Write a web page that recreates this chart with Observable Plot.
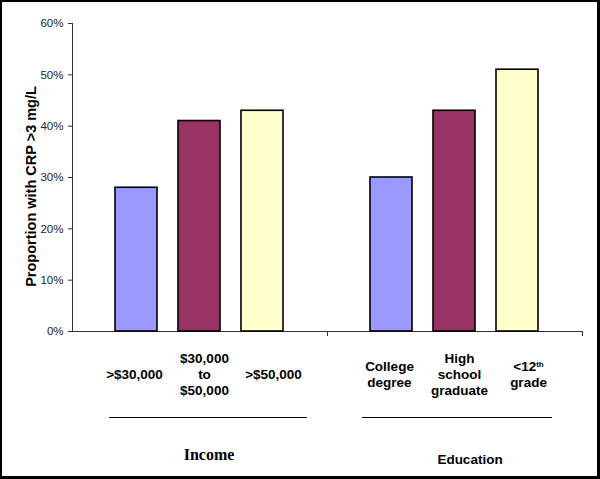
<!DOCTYPE html>
<html>
<head>
<meta charset="utf-8">
<script src="https://cdn.jsdelivr.net/npm/d3@7"></script>
<script src="https://cdn.jsdelivr.net/npm/@observablehq/plot@0.6"></script>
<style>
  html, body { margin: 0; padding: 0; background: #fff; }
  #wrap { position: relative; width: 600px; height: 479px; overflow: hidden; }
  #border { position: absolute; left: 0; top: 0; width: 600px; height: 479px; box-sizing: border-box;
            border-left: 2px solid #000; border-top: 2px solid #000; border-right: 3px solid #000; border-bottom: 3px solid #000;
            pointer-events: none; }
</style>
</head>
<body>
<div id="wrap"><div id="border"></div></div>
<script>
// ---- data ----
const groups = ["Income", "Education"];
const incomeCategories = [">$30,000", "$30,000\nto\n$50,000", ">$50,000"];
const incomeValues = [0.28, 0.41, 0.43];
const educationCategories = ["College\ndegree", "High\nschool\ngraduate", "<12th\ngrade"];
const educationValues = [0.30, 0.43, 0.51];
const barColors = ["#9999FF", "#993366", "#FFFFCC"];
const yTicks = [0, 0.1, 0.2, 0.3, 0.4, 0.5, 0.6];
const yLabel = "Proportion with CRP >3 mg/L";

// ---- table ----
const rows = [];
incomeCategories.forEach((c, i) => rows.push({group: groups[0], rank: i, category: c, value: incomeValues[i]}));
educationCategories.forEach((c, i) => rows.push({group: groups[1], rank: i, category: c, value: educationValues[i]}));

const W = 600, H = 479, mL = 71, mR = 18, mT = 23, mB = 148;
const plotH = H - mT - mB;
const labelDx = [-2, 5, 11];
const groupStyle = {
  Income:    {font: "'Liberation Serif', 'Times New Roman', serif", size: 16, dx: 9, dy: 123, insetLeft: 37, insetRight: 20},
  Education: {font: "'Liberation Sans', Arial, sans-serif", size: 13.5, dx: 15, dy: 128, insetLeft: 35, insetRight: 30}
};

const marks = [
  Plot.ruleY([0], {stroke: "#333", strokeWidth: 1}),
  Plot.frame({anchor: "right", insetTop: plotH, insetBottom: -4, stroke: "#333", strokeWidth: 1}),
  Plot.frame({anchor: "left", fx: () => groups[0], stroke: "#333", strokeWidth: 1}),
  Plot.axisY({ticks: yTicks, tickFormat: d3.format(".0%"), tickSize: 4, tickPadding: 5, fontSize: 11.5, fill: "#222", stroke: "#333", label: null}),
  Plot.barY(rows, {fx: "group", x: "rank", y: "value", fill: "rank", stroke: "#000", strokeWidth: 1.6}),
  ...labelDx.map((dx, r) => Plot.text(rows.filter(d => d.rank === r), {
    fx: "group", x: "rank", text: "category", frameAnchor: "bottom", dy: 42, dx,
    lineAnchor: "middle", lineHeight: 1.185, fontSize: 13.5, fontWeight: "bold", fill: "#000"
  })),
  ...groups.flatMap(g => {
    const s = groupStyle[g];
    return [
      Plot.ruleY([g], {fx: d => d, y: () => 0, dy: 86, insetLeft: s.insetLeft, insetRight: s.insetRight, stroke: "#000", strokeWidth: 1}),
      Plot.text([g], {fx: d => d, text: d => d, frameAnchor: "bottom", dy: s.dy, dx: s.dx, lineAnchor: "middle",
        fontFamily: s.font, fontSize: s.size, fontWeight: "bold", fill: "#000"})
    ];
  }),
  Plot.text([yLabel], {fx: () => groups[0], text: d => d, frameAnchor: "left", textAnchor: "middle", lineAnchor: "middle",
    rotate: -90, dx: -41, dy: 9, fontSize: 14.5, fontWeight: "bold", fill: "#000"})
];

const chart = Plot.plot({
  width: W, height: H,
  marginLeft: mL, marginRight: mR, marginTop: mT, marginBottom: mB,
  style: {fontFamily: "'Liberation Sans', Arial, sans-serif", fontSize: "11.5px", background: "#fff", color: "#000", overflow: "visible"},
  fx: {domain: groups, padding: 0, axis: null, label: null},
  x: {domain: [0, 1, 2], paddingInner: 0.33, paddingOuter: 0.66, axis: null},
  y: {domain: [0, 0.6], axis: null},
  color: {type: "ordinal", domain: [0, 1, 2], range: barColors},
  marks
});

// superscript "th" in "<12th"
d3.select(chart).selectAll("tspan, text").each(function() {
  if (this.childElementCount === 0 && this.textContent === "<12th") {
    this.textContent = "<12";
    const sup = document.createElementNS("http://www.w3.org/2000/svg", "tspan");
    sup.textContent = "th";
    sup.setAttribute("font-size", "8");
    sup.setAttribute("baseline-shift", "super");
    this.appendChild(sup);
  }
});

document.getElementById("wrap").prepend(chart);
</script>
</body>
</html>
